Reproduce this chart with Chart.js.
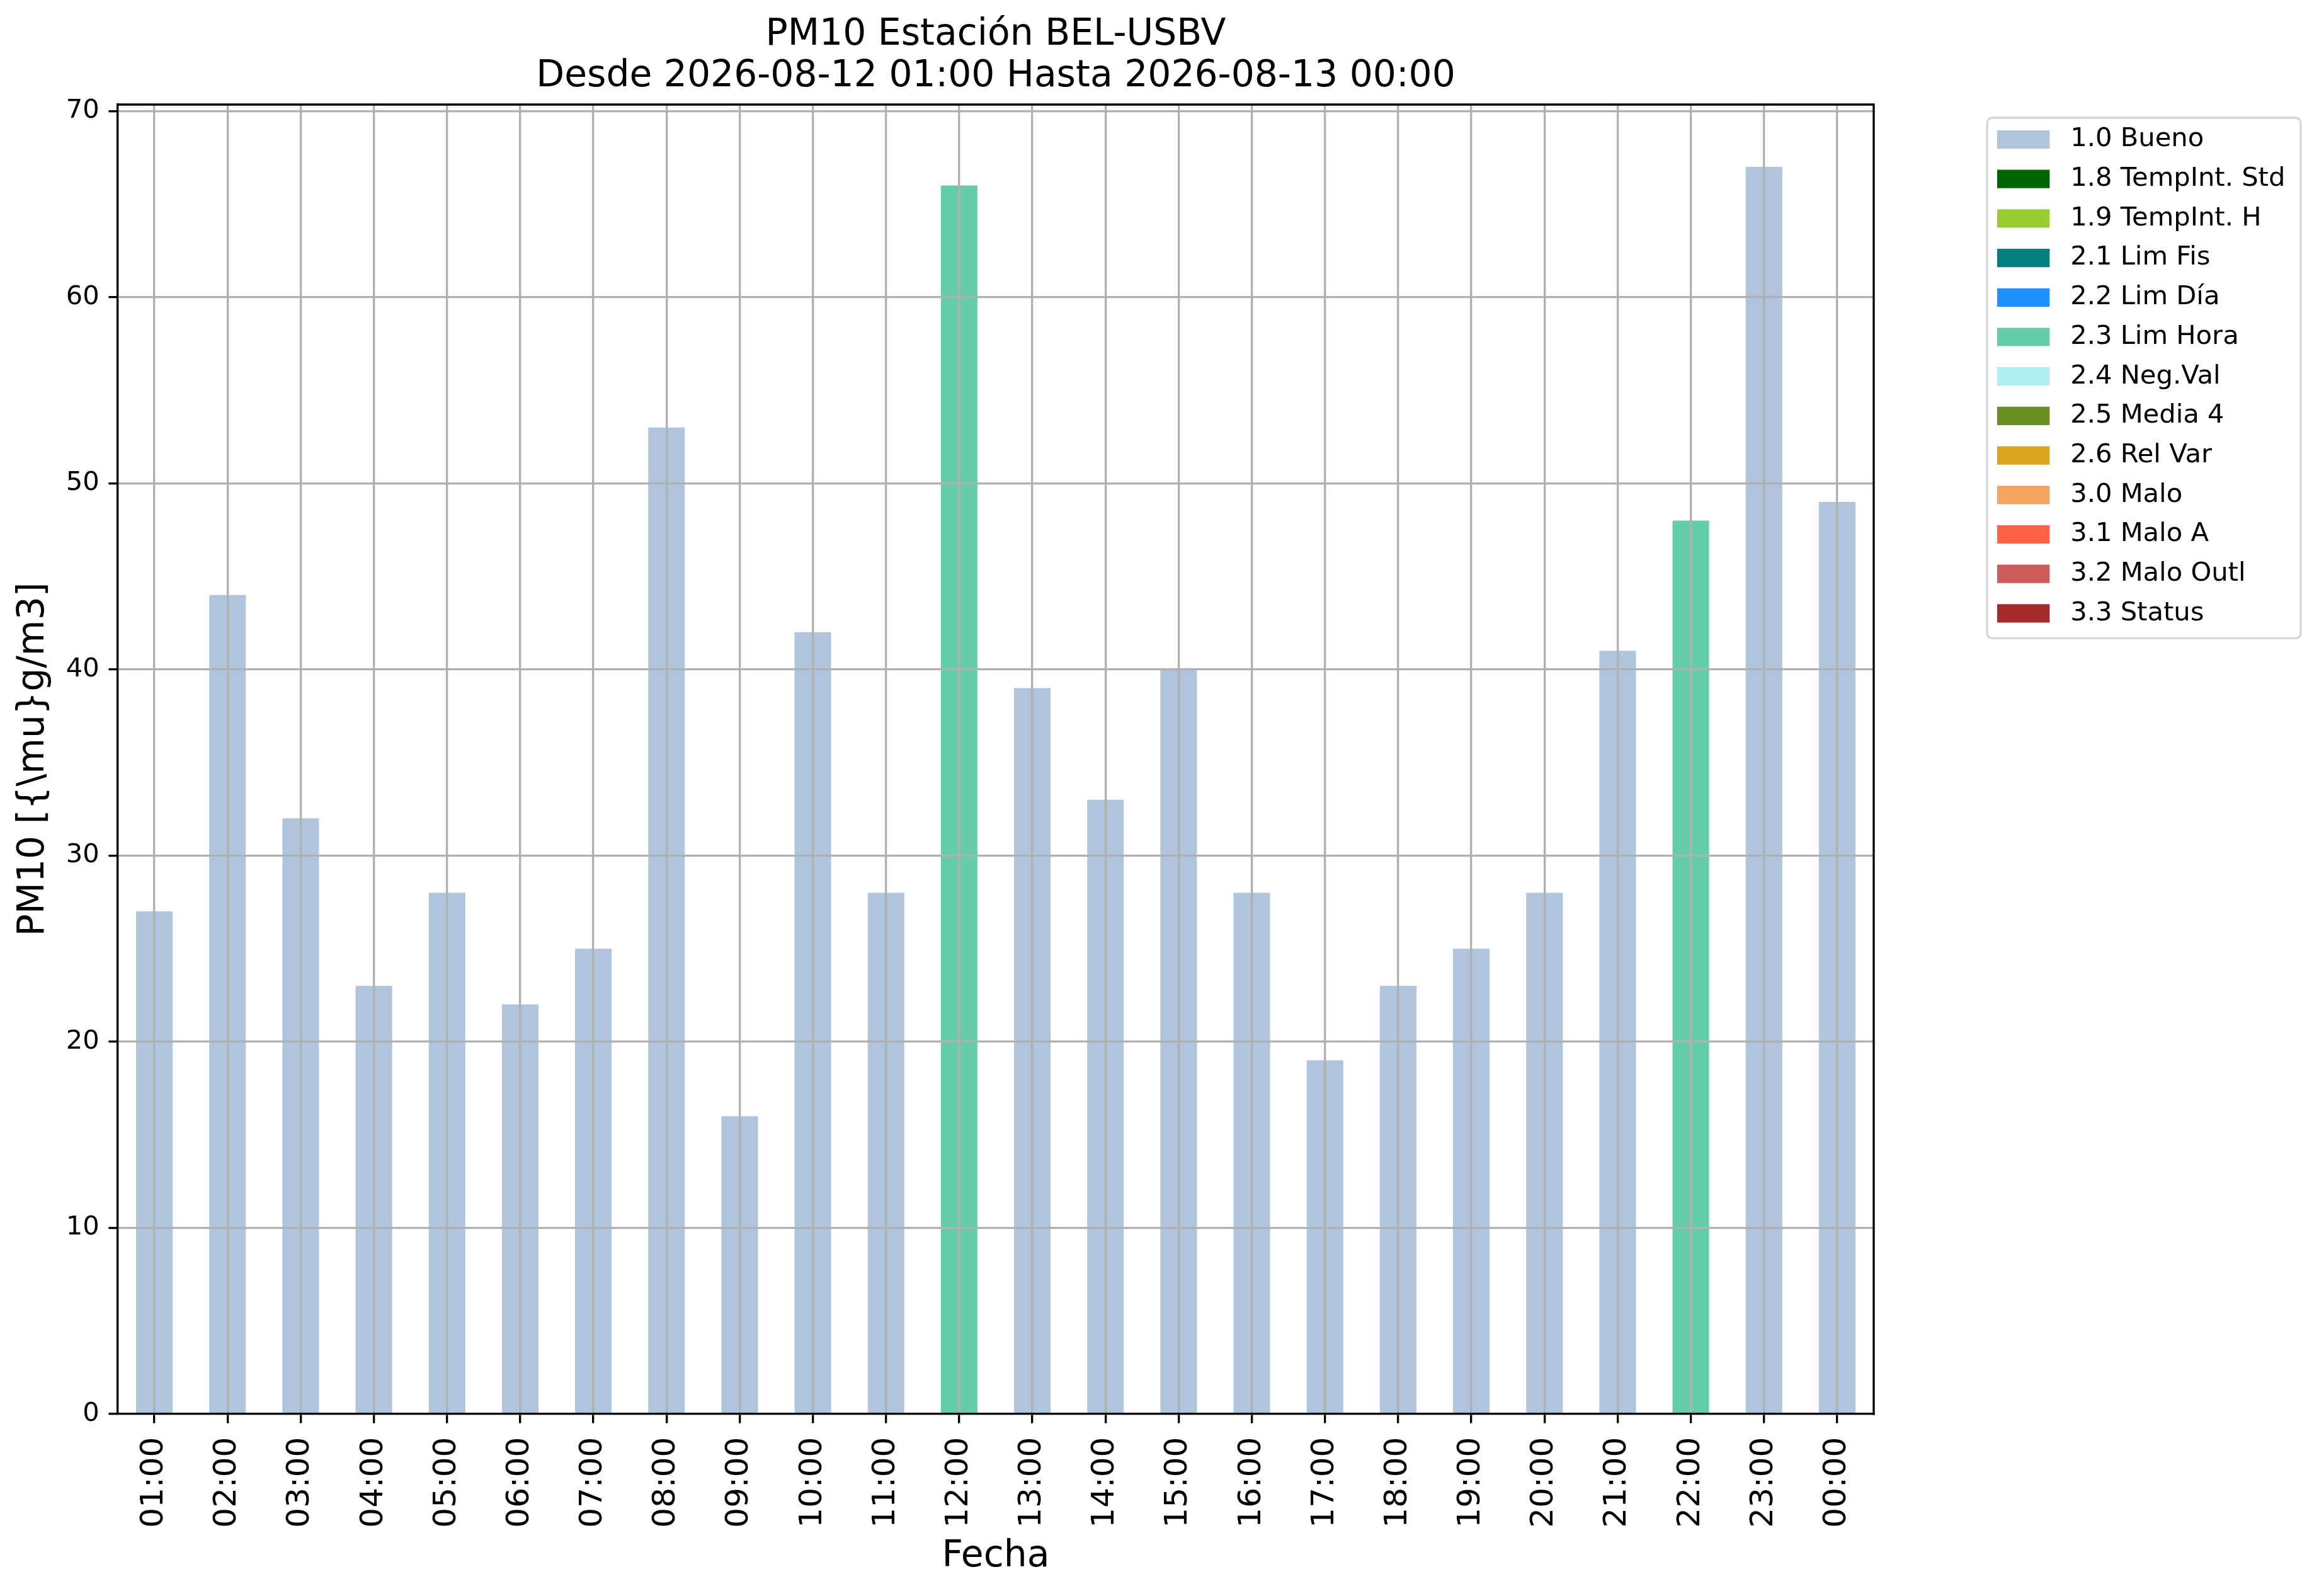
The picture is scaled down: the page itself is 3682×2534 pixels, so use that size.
<!DOCTYPE html>
<html>
<head>
<meta charset="utf-8">
<title>PM10 Estación BEL-USBV</title>
<script src="https://cdn.jsdelivr.net/npm/chart.js@4.4.1/dist/chart.umd.min.js"></script>
<style>
  html, body { margin: 0; padding: 0; background: #ffffff; }
  canvas { display: block; }
</style>
</head>
<body>
<canvas id="c" width="3682" height="2534"></canvas>
<script>
// ---------------- data ----------------
const hours = ['01:00','02:00','03:00','04:00','05:00','06:00','07:00','08:00','09:00','10:00','11:00','12:00',
               '13:00','14:00','15:00','16:00','17:00','18:00','19:00','20:00','21:00','22:00','23:00','00:00'];
const pm10 = [27, 44, 32, 23, 28, 22, 25, 53, 16, 42, 28, 66, 39, 33, 40, 28, 19, 23, 25, 28, 41, 48, 67, 49];
const flags = ['1.0 Bueno','1.0 Bueno','1.0 Bueno','1.0 Bueno','1.0 Bueno','1.0 Bueno','1.0 Bueno','1.0 Bueno',
               '1.0 Bueno','1.0 Bueno','1.0 Bueno','2.3 Lim Hora','1.0 Bueno','1.0 Bueno','1.0 Bueno','1.0 Bueno',
               '1.0 Bueno','1.0 Bueno','1.0 Bueno','1.0 Bueno','1.0 Bueno','2.3 Lim Hora','1.0 Bueno','1.0 Bueno'];
const flagNames = ['1.0 Bueno','1.8 TempInt. Std','1.9 TempInt. H','2.1 Lim Fis','2.2 Lim Día','2.3 Lim Hora',
                   '2.4 Neg.Val','2.5 Media 4','2.6 Rel Var','3.0 Malo','3.1 Malo A','3.2 Malo Outl','3.3 Status'];
const flagColors = ['#B0C4DE','#006400','#9ACD32','#008080','#1E90FF','#66CDAA',
                    '#AFEEEE','#6B8E23','#DAA520','#F4A460','#FF6347','#CD5C5C','#A52A2A'];
const yTicks = [0, 10, 20, 30, 40, 50, 60, 70];
const yLimits = [0, 70.35];

// ---------------- layout constants ----------------
const PT = 300 / 72;
const W = 3682, H = 2534;
const plotL = 187, plotR = 2975, plotT = 166, plotB = 2245;
const legFont = 10 * PT;
const legStroke = 24;                       // white edge that trims the legend swatch
const legBoxW = 2 * legFont + legStroke;    // visible swatch 2.0 em wide
const legBoxH = 0.7 * legFont + legStroke;  // visible swatch 0.7 em high
const legRowStep = 62.7;
const legItemH = Math.max(legFont, legBoxH);
const legPad = legRowStep - legItemH;
const legVisibleX = 3171, legRow1 = 221.5;

const mctx = document.createElement('canvas').getContext('2d');
mctx.font = legFont + 'px "DejaVu Sans"';
const maxText = Math.max(...flagNames.map(t => mctx.measureText(t).width));
const legW = legPad + legBoxW + legFont / 2 + maxText + 10;
const legLeft = legVisibleX - legStroke / 2 - legPad;
const gapW = legLeft - plotR;
const padRight = W - plotR - gapW - legW;
// the right-hand legend box starts at the top edge of the canvas
const legTitleH = legRow1 - (legPad + legItemH / 2);

Chart.defaults.font.family = '"DejaVu Sans", sans-serif';
Chart.defaults.color = '#000';

const datasets = flagNames.map((name, k) => ({
  label: name,
  data: pm10.map((v, i) => flags[i] === name ? v : null),
  backgroundColor: flagColors[k],
  borderWidth: 0,
  barPercentage: 0.5,
  categoryPercentage: 1.0
}));

function roundRect(ctx, x, y, w, h, r) {
  ctx.beginPath();
  ctx.moveTo(x + r, y);
  ctx.lineTo(x + w - r, y);
  ctx.arcTo(x + w, y, x + w, y + r, r);
  ctx.lineTo(x + w, y + h - r);
  ctx.arcTo(x + w, y + h, x + w - r, y + h, r);
  ctx.lineTo(x + r, y + h);
  ctx.arcTo(x, y + h, x, y + h - r, r);
  ctx.lineTo(x, y + r);
  ctx.arcTo(x, y, x + r, y, r);
  ctx.closePath();
}

const framePlugin = {
  id: 'frames',
  afterDraw(chart) {
    const ctx = chart.ctx, a = chart.chartArea, lg = chart.legend;
    ctx.save();
    // top & right spines
    ctx.strokeStyle = '#000';
    ctx.lineWidth = 0.8 * PT;
    ctx.lineCap = 'square';
    ctx.beginPath();
    ctx.moveTo(a.left, a.top);
    ctx.lineTo(a.right, a.top);
    ctx.lineTo(a.right, a.bottom);
    ctx.stroke();
    // legend frame
    const pad = lg.options.labels.padding;
    const bx = lg.left + pad + legStroke / 2;
    const r1 = lg.top + lg._computeTitleHeight() + pad + legItemH / 2;
    const rN = r1 + (lg.legendItems.length - 1) * (legItemH + pad);
    ctx.strokeStyle = '#d6d6d6';
    ctx.lineWidth = 0.8 * PT;
    ctx.lineCap = 'butt';
    roundRect(ctx, bx - 16, r1 - 34.5, 498, (rN + 39.5) - (r1 - 34.5), 0.2 * legFont);
    ctx.stroke();
    ctx.restore();
  }
};

new Chart(document.getElementById('c'), {
  type: 'bar',
  data: { labels: hours, datasets: datasets },
  options: {
    responsive: false,
    devicePixelRatio: 1,
    animation: false,
    layout: { padding: { left: 0, right: padRight, top: 0, bottom: 0 } },
    plugins: {
      tooltip: { enabled: false },
      title: {
        display: true,
        fullSize: false,
        text: ['PM10 Estación BEL-USBV', 'Desde 2026-08-12 01:00 Hasta 2026-08-13 00:00'],
        color: '#000',
        font: { size: 14 * PT, weight: 'normal', lineHeight: 66 / (14 * PT) },
        padding: { top: 23, bottom: 11 }
      },
      legend: {
        position: 'right',
        align: 'start',
        title: { display: true, text: '', font: { size: 1, lineHeight: 1 }, padding: { top: 0, bottom: legTitleH - 1 } },
        labels: {
          boxWidth: legBoxW,
          boxHeight: legBoxH,
          padding: legPad,
          color: '#000',
          font: { size: legFont },
          generateLabels: chart => Chart.defaults.plugins.legend.labels.generateLabels(chart)
            .map(item => Object.assign(item, { strokeStyle: '#ffffff', lineWidth: legStroke }))
        }
      }
    },
    scales: {
      x: {
        stacked: true,
        offset: true,
        afterFit: s => { s.height = H - plotB; },
        ticks: { font: { size: 12 * PT }, color: '#000', minRotation: 90, maxRotation: 90, autoSkip: false, padding: 22, z: 2 },
        grid: { offset: false, color: '#b0b0b0', lineWidth: 0.8 * PT, tickColor: '#000', tickLength: 3.5 * PT, tickWidth: 0.8 * PT, z: 1 },
        border: { color: '#000', width: 0.8 * PT, z: 2 },
        title: { display: true, text: 'Fecha', color: '#000', font: { size: 14 * PT, lineHeight: 1.2 }, padding: { top: 0, bottom: 27 } }
      },
      y: {
        stacked: true,
        min: yLimits[0],
        max: yLimits[1],
        afterBuildTicks: s => { s.ticks = yTicks.map(v => ({ value: v })); },
        afterFit: s => { s.width = plotL; },
        ticks: { font: { size: 10 * PT }, color: '#000', padding: 3.5 * PT, z: 2 },
        grid: { color: '#b0b0b0', lineWidth: 0.8 * PT, tickColor: '#000', tickLength: 3.5 * PT, tickWidth: 0.8 * PT, z: 1 },
        border: { color: '#000', width: 0.8 * PT, z: 2 },
        title: { display: true, text: 'PM10 [{\\mu}g/m3]', color: '#000', font: { size: 14 * PT, lineHeight: 1.2 }, padding: { top: 19, bottom: 0 } }
      },
      gap: {
        type: 'linear',
        position: 'right',
        display: true,
        afterFit: s => { s.width = gapW; },
        grid: { display: false },
        ticks: { display: false },
        border: { display: false }
      }
    }
  },
  plugins: [framePlugin]
});
</script>
</body>
</html>
